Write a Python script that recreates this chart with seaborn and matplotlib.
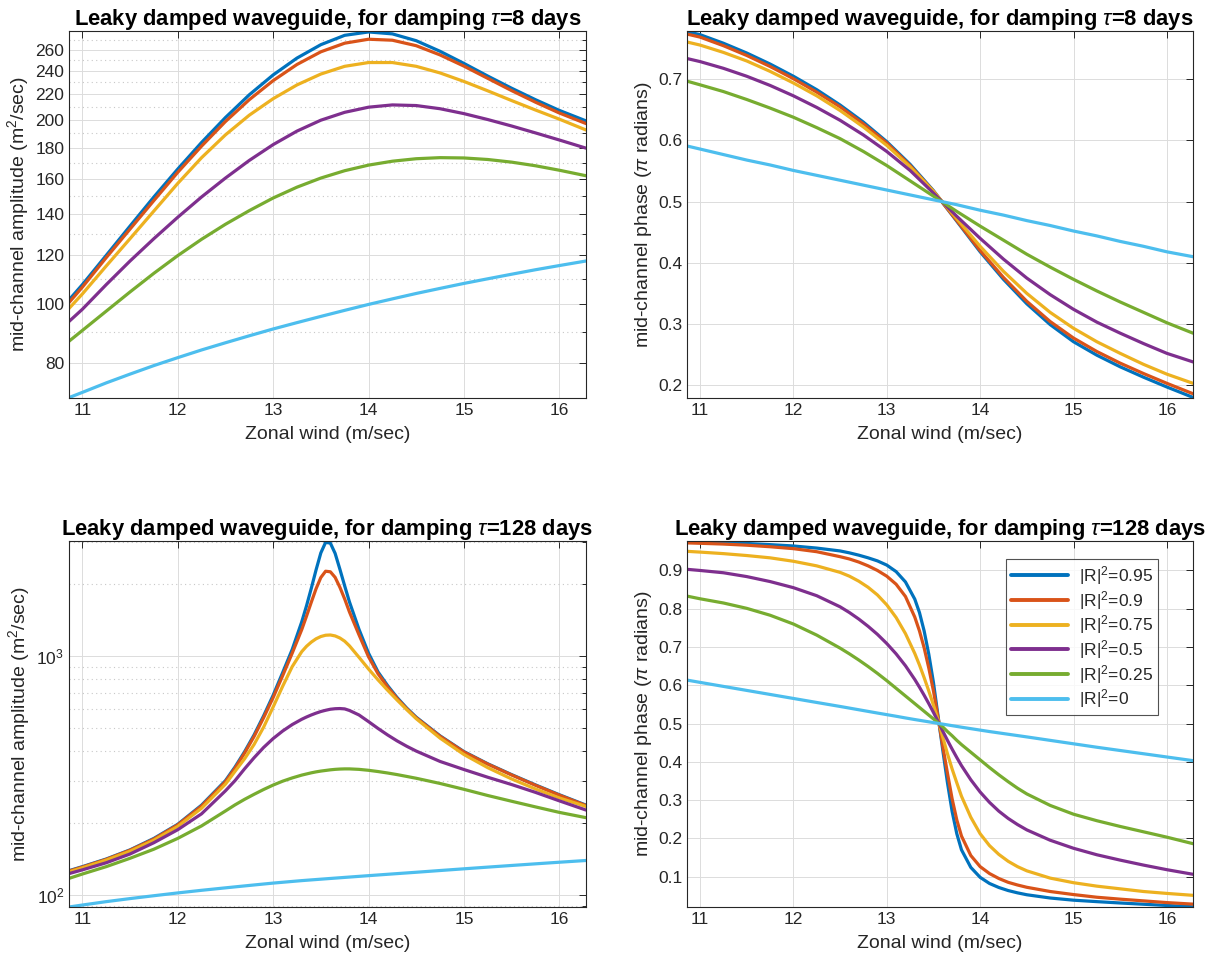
import matplotlib
matplotlib.use("Agg")
import matplotlib.pyplot as plt
import numpy as np
import pandas as pd
import seaborn as sns
from matplotlib.ticker import FixedLocator, NullFormatter, FixedFormatter

# ---------------- data ----------------
series_labels = ["|R|$^2$=0.95", "|R|$^2$=0.9", "|R|$^2$=0.75",
                 "|R|$^2$=0.5", "|R|$^2$=0.25", "|R|$^2$=0"]
colors = ["#0072BD", "#D95319", "#EDB120", "#7E2F8E", "#77AC30", "#4DBEEE"]

wind_top = [10.86, 11.0, 11.25, 11.5, 11.75, 12.0, 12.25, 12.5, 12.75, 13.0, 13.25, 13.5,
            13.75, 14.0, 14.25, 14.5, 14.75, 15.0, 15.25, 15.5, 15.75, 16.0, 16.28]

amp8_095 = [101.5, 107.5, 120, 134, 149.5, 166, 183.5, 201.5, 219.5, 236.5, 252, 265, 274.5,
            278, 276, 269, 258.5, 247, 235.5, 225, 215.5, 207, 199]
amp8_090 = [100.5, 106.5, 119, 132.5, 147.5, 164, 181, 198.5, 215.5, 231.5, 246, 258, 266.5,
            270.5, 269.5, 264, 255, 244.5, 233.5, 223, 213.5, 205, 197]
amp8_075 = [98.3, 103.8, 115.3, 127.8, 141.8, 157.3, 173.3, 188.8, 203.3, 216.3, 227.8, 237.3,
            244.3, 247.8, 247.8, 244.3, 238.3, 230.8, 222.8, 214.8, 207.3, 200.3, 192.3]
amp8_050 = [93.6, 98, 107.5, 117.5, 127.8, 138.5, 149.5, 160.5, 171.5, 182, 191.5, 199.5,
            205.5, 209.5, 211.3, 210.8, 208.3, 204.5, 200, 195.2, 190.2, 185.2, 179.6]
amp8_025 = [86.9, 90.5, 97.3, 104.6, 112.2, 119.9, 127.5, 134.9, 142.0, 148.9, 155.1, 160.5,
            165.0, 168.5, 171.0, 172.6, 173.3, 173.1, 172.1, 170.4, 168.1, 165.3, 161.9]
amp8_000 = [70.3, 71.7, 74.3, 76.8, 79.3, 81.7, 84.1, 86.4, 88.7, 91.0, 93.2, 95.4, 97.6,
            99.8, 101.9, 104.0, 106.0, 108.0, 109.9, 111.8, 113.7, 115.5, 117.5]

ph8_095 = [0.778, 0.773, 0.759, 0.743, 0.725, 0.705, 0.683, 0.658, 0.630, 0.598, 0.561,
           0.518, 0.468, 0.418, 0.373, 0.333, 0.299, 0.271, 0.249, 0.230, 0.213, 0.197, 0.180]
ph8_090 = [0.774, 0.769, 0.755, 0.739, 0.721, 0.701, 0.679, 0.655, 0.627, 0.596, 0.559,
           0.517, 0.469, 0.420, 0.376, 0.337, 0.304, 0.277, 0.255, 0.236, 0.219, 0.203, 0.186]
ph8_075 = [0.761, 0.756, 0.744, 0.730, 0.713, 0.694, 0.673, 0.649, 0.622, 0.592, 0.557,
           0.517, 0.472, 0.427, 0.386, 0.350, 0.319, 0.293, 0.271, 0.252, 0.234, 0.218, 0.203]
ph8_050 = [0.734, 0.729, 0.718, 0.705, 0.690, 0.673, 0.654, 0.633, 0.609, 0.582, 0.551,
           0.514, 0.476, 0.440, 0.406, 0.375, 0.348, 0.324, 0.303, 0.285, 0.268, 0.252, 0.238]
ph8_025 = [0.697, 0.691, 0.680, 0.667, 0.653, 0.638, 0.621, 0.603, 0.582, 0.559, 0.534,
           0.509, 0.484, 0.460, 0.437, 0.414, 0.393, 0.373, 0.354, 0.336, 0.319, 0.302, 0.285]
ph8_000 = [0.591, 0.586, 0.577, 0.568, 0.560, 0.551, 0.543, 0.535, 0.527, 0.519, 0.511,
           0.503, 0.495, 0.486, 0.478, 0.469, 0.461, 0.452, 0.444, 0.435, 0.427, 0.418, 0.410]

wind_bot = [10.86, 11.0, 11.25, 11.5, 11.75, 12.0, 12.25, 12.5, 12.6, 12.7, 12.8, 12.9,
            13.0, 13.1, 13.2, 13.3, 13.35, 13.4, 13.45, 13.5, 13.55, 13.6, 13.65, 13.7,
            13.75, 13.8, 13.9, 14.0, 14.1, 14.2, 14.3, 14.4, 14.5, 14.75, 15.0, 15.25,
            15.5, 15.75, 16.0, 16.28]

amp128_095 = [126, 131, 141, 154, 172, 197, 237, 300, 342, 396, 466, 560, 683, 850, 1062,
              1386, 1617, 1914, 2285, 2692, 2980, 2960, 2680, 2300, 1960, 1680, 1290, 1025,
              855, 750, 668, 604, 553, 462, 397, 353, 318, 288, 262, 237]
amp128_090 = [125.5, 130.5, 140.5, 153.5, 171, 196, 235, 297, 338, 391, 459, 550, 668, 825,
              1025, 1286, 1464, 1674, 1906, 2124, 2257, 2245, 2127, 1933, 1728, 1525, 1224,
              990, 840, 740, 662, 600, 550, 460, 395.5, 352, 317, 287, 261, 236]
amp128_075 = [124.5, 129.5, 139.5, 152, 169, 193, 230, 290, 328, 370, 425, 502, 610, 745,
              900, 1040, 1095, 1140, 1177, 1203, 1218, 1221, 1210, 1186, 1150, 1100, 985,
              880, 792, 717, 652, 595, 545, 452, 386, 340, 305, 277, 254, 234]
amp128_050 = [122.5, 127, 136, 148, 165, 187, 218, 272, 300, 336, 374, 413, 450, 484, 515,
              542, 554, 565, 575, 584, 591, 597, 600, 601, 599, 590, 565, 530, 496, 466, 440,
              418, 399, 361, 334, 310, 289, 268, 247, 226]
amp128_025 = [117, 122, 131, 142, 155, 172, 194, 224, 237.5, 250.5, 263, 275.5, 287.5, 298.5,
              308, 316.5, 320, 323.5, 326.5, 329, 331, 333, 334.5, 335.5, 336, 336, 334.5,
              331.5, 327.5, 323, 318, 312.5, 307, 292, 276, 260, 246, 233, 221, 210]
amp128_000 = [88.8, 90.5, 93.5, 96.3, 99.0, 101.7, 104.3, 106.8, 107.8, 108.8, 109.8, 110.8,
              111.8, 112.7, 113.6, 114.5, 114.9, 115.3, 115.7, 116.1, 116.5, 116.9, 117.3,
              117.7, 118.1, 118.5, 119.3, 120.1, 120.9, 121.7, 122.5, 123.3, 124.1, 126.2,
              128.3, 130.4, 132.5, 134.6, 136.7, 139.0]

ph128_095 = [0.977, 0.976, 0.973, 0.9705, 0.9675, 0.964, 0.9585, 0.951, 0.946, 0.940, 0.933,
             0.925, 0.914, 0.897, 0.870, 0.825, 0.790, 0.742, 0.681, 0.607, 0.518, 0.430,
             0.345, 0.270, 0.212, 0.170, 0.124, 0.098, 0.082, 0.0715, 0.0635, 0.0575, 0.0525,
             0.044, 0.0383, 0.0345, 0.031, 0.0277, 0.0245, 0.021]
ph128_090 = [0.972, 0.971, 0.969, 0.966, 0.962, 0.957, 0.949, 0.936, 0.930, 0.922, 0.912,
             0.900, 0.885, 0.864, 0.832, 0.778, 0.742, 0.698, 0.645, 0.585, 0.515, 0.440,
             0.370, 0.303, 0.248, 0.206, 0.155, 0.126, 0.108, 0.095, 0.085, 0.078, 0.072,
             0.061, 0.053, 0.046, 0.041, 0.0365, 0.032, 0.028]
ph128_075 = [0.950, 0.948, 0.944, 0.939, 0.933, 0.924, 0.912, 0.895, 0.885, 0.872, 0.856,
             0.836, 0.810, 0.777, 0.735, 0.683, 0.653, 0.620, 0.585, 0.548, 0.509, 0.464,
             0.421, 0.381, 0.345, 0.310, 0.255, 0.212, 0.181, 0.158, 0.140, 0.126, 0.115,
             0.096, 0.084, 0.075, 0.068, 0.061, 0.056, 0.051]
ph128_050 = [0.903, 0.900, 0.894, 0.884, 0.871, 0.855, 0.834, 0.805, 0.790, 0.773, 0.754,
             0.733, 0.709, 0.682, 0.651, 0.615, 0.595, 0.574, 0.552, 0.529, 0.505, 0.480,
             0.456, 0.433, 0.411, 0.390, 0.353, 0.321, 0.294, 0.271, 0.252, 0.236, 0.222,
             0.195, 0.174, 0.157, 0.143, 0.130, 0.118, 0.106]
ph128_025 = [0.833, 0.826, 0.815, 0.801, 0.783, 0.760, 0.731, 0.697, 0.682, 0.666, 0.649,
             0.631, 0.612, 0.592, 0.572, 0.552, 0.542, 0.532, 0.522, 0.512, 0.502, 0.491,
             0.479, 0.468, 0.456, 0.445, 0.425, 0.405, 0.385, 0.366, 0.348, 0.331, 0.316,
             0.286, 0.263, 0.246, 0.231, 0.217, 0.203, 0.186]
ph128_000 = [0.6135, 0.6075, 0.597, 0.5865, 0.576, 0.5655, 0.555, 0.5446, 0.5403, 0.536,
             0.5317, 0.5274, 0.5232, 0.519, 0.5146, 0.5104, 0.5084, 0.5064, 0.5044, 0.5024,
             0.5004, 0.4984, 0.4964, 0.4944, 0.4924, 0.4904, 0.4866, 0.4828, 0.479, 0.4755,
             0.472, 0.4685, 0.465, 0.456, 0.447, 0.438, 0.4295, 0.421, 0.4125, 0.403]

amp_ticks_8 = [80, 100, 120, 140, 160, 180, 200, 220, 240, 260]
amp_minor_8 = [90, 110, 130, 150, 170, 190, 210, 230, 250, 270]
amp_ticks_128 = [100, 1000]
amp_tick_labels_128 = ["$10^2$", "$10^3$"]
amp_minor_128 = [90, 200, 300, 400, 500, 600, 700, 800, 900, 2000, 3000]
phase_ticks_8 = [0.2, 0.3, 0.4, 0.5, 0.6, 0.7]
phase_ticks_128 = [0.1, 0.2, 0.3, 0.4, 0.5, 0.6, 0.7, 0.8, 0.9]
wind_ticks = [11, 12, 13, 14, 15, 16]

# ---------------- styling ----------------
sns.set_theme(style="white")
plt.rcParams["font.family"] = ["Liberation Sans", "DejaVu Sans"]
plt.rcParams["mathtext.fontset"] = "custom"
plt.rcParams["mathtext.rm"] = "Liberation Sans"
plt.rcParams["mathtext.it"] = "Liberation Sans:italic"
plt.rcParams["mathtext.bf"] = "Liberation Sans:bold"
INK = "#262626"
LABEL_SIZE = 14


def long_frame(x, ys):
    parts = []
    for lab, y in zip(series_labels, ys):
        parts.append(pd.DataFrame({"wind": x, "value": y, "series": lab}))
    return pd.concat(parts, ignore_index=True)


def style_axes(ax):
    for sp in ax.spines.values():
        sp.set_visible(True)
        sp.set_color(INK)
        sp.set_linewidth(0.8)
    ax.tick_params(which="both", direction="in", top=True, right=True,
                   colors=INK, labelcolor=INK, labelsize=12.5, width=0.7)
    ax.tick_params(which="major", length=5)
    ax.tick_params(which="minor", length=3)
    ax.set_axisbelow(True)
    ax.grid(True, which="major", color="#dcdcdc", linewidth=0.7, linestyle="-")
    ax.set_xticks(wind_ticks)
    ax.set_xticklabels([str(t) for t in wind_ticks])
    ax.xaxis.set_minor_locator(FixedLocator([]))
    ax.set_xlabel("Zonal wind (m/sec)", fontsize=LABEL_SIZE, color=INK, labelpad=6)


fig = plt.figure(figsize=(12.19, 9.6), dpi=100)
W, H = 1219.0, 960.0
pos = {
    "tl": [69 / W, 1 - 398 / H, (586 - 69) / W, (398 - 31) / H],
    "tr": [687 / W, 1 - 398 / H, (1193 - 687) / W, (398 - 31) / H],
    "bl": [69 / W, 1 - 907 / H, (586 - 69) / W, (907 - 541) / H],
    "br": [687 / W, 1 - 907 / H, (1193 - 687) / W, (907 - 541) / H],
}

panels = [
    ("tl", wind_top, [amp8_095, amp8_090, amp8_075, amp8_050, amp8_025, amp8_000], "amp", 8),
    ("tr", wind_top, [ph8_095, ph8_090, ph8_075, ph8_050, ph8_025, ph8_000], "phase", 8),
    ("bl", wind_bot, [amp128_095, amp128_090, amp128_075, amp128_050, amp128_025, amp128_000], "amp", 128),
    ("br", wind_bot, [ph128_095, ph128_090, ph128_075, ph128_050, ph128_025, ph128_000], "phase", 128),
]

for key, x, ys, kind, tau in panels:
    ax = fig.add_axes(pos[key])
    df = long_frame(x, ys)
    if kind == "amp":
        ax.set_yscale("log")
    sns.lineplot(data=df, x="wind", y="value", hue="series", hue_order=series_labels,
                 palette=colors, estimator=None, sort=False, linewidth=2.3, ax=ax,
                 legend=False)
    for ln in ax.get_lines():
        ln.set_solid_joinstyle("round")
        ln.set_solid_capstyle("round")
    style_axes(ax)
    ax.set_xlim(x[0], x[-1])
    ax.set_title("Leaky damped waveguide, for damping $\\tau$=%d days" % tau,
                 fontsize=15.8, fontweight="bold", color="black", pad=4)
    if kind == "amp":
        ax.set_ylabel("mid-channel amplitude (m$^2$/sec)", fontsize=LABEL_SIZE, color=INK,
                      labelpad=3)
        if tau == 8:
            ax.set_ylim(70.2, 279)
            ax.yaxis.set_major_locator(FixedLocator(amp_ticks_8))
            ax.yaxis.set_major_formatter(FixedFormatter([str(t) for t in amp_ticks_8]))
            ax.yaxis.set_minor_locator(FixedLocator(amp_minor_8))
        else:
            ax.set_ylim(88.8, 3020)
            ax.yaxis.set_major_locator(FixedLocator(amp_ticks_128))
            ax.yaxis.set_major_formatter(FixedFormatter(amp_tick_labels_128))
            ax.yaxis.set_minor_locator(FixedLocator(amp_minor_128))
        ax.yaxis.set_minor_formatter(NullFormatter())
        ax.grid(True, which="minor", axis="y", color="#c8c8c8", linewidth=0.8,
                linestyle=(0, (1, 3)))
    else:
        ax.set_ylabel("mid-channel phase ($\\pi$ radians)", fontsize=LABEL_SIZE, color=INK,
                      labelpad=3)
        if tau == 8:
            ax.set_ylim(0.179, 0.779)
            ax.set_yticks(phase_ticks_8)
            ax.set_yticklabels([f"{t:.1f}" for t in phase_ticks_8])
        else:
            ax.set_ylim(0.0205, 0.977)
            ax.set_yticks(phase_ticks_128)
            ax.set_yticklabels([f"{t:.1f}" for t in phase_ticks_128])
            ax.yaxis.set_minor_locator(FixedLocator([]))
            leg = ax.legend(ax.get_lines()[:6], series_labels, loc="upper right",
                            bbox_to_anchor=(0.931, 0.951), borderaxespad=0.0,
                            fontsize=12.5, frameon=True, fancybox=False,
                            handlelength=3.3, handletextpad=0.6, labelspacing=0.1,
                            borderpad=0.3)
            leg.get_frame().set_edgecolor(INK)
            leg.get_frame().set_linewidth(0.8)
            for line in leg.get_lines():
                line.set_linewidth(2.8)

fig.savefig("out.png", dpi=100, facecolor="white")
